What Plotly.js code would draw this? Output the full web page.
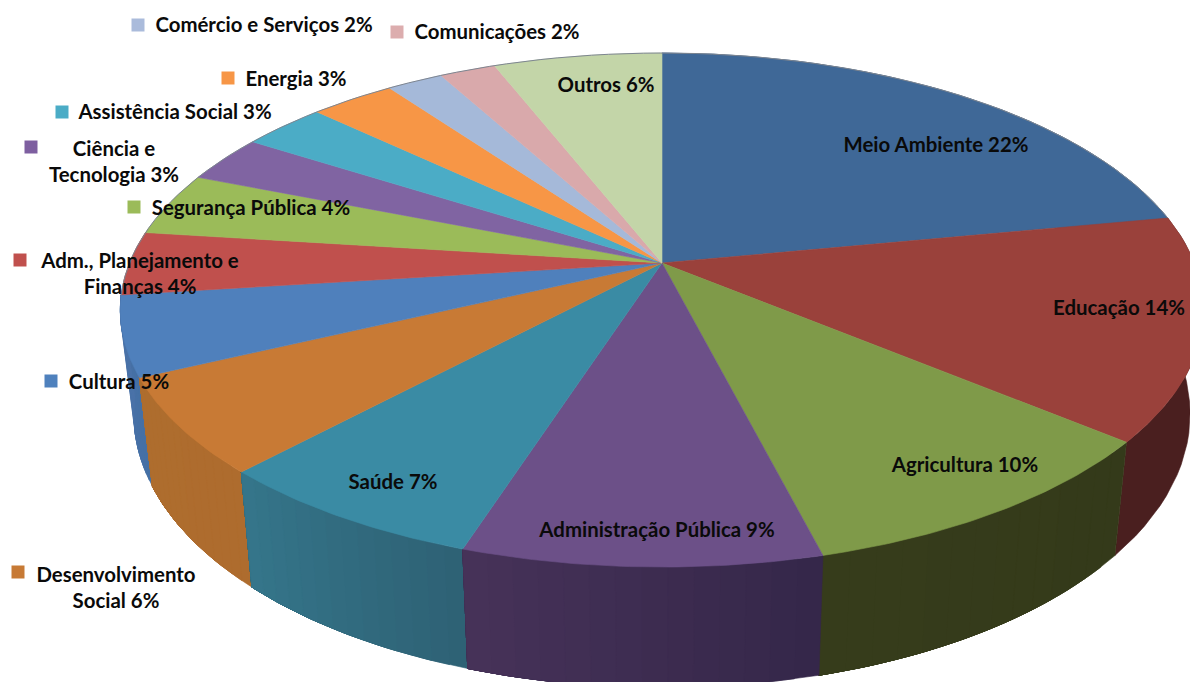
<!DOCTYPE html>
<html><head><meta charset="utf-8">
<script src="https://cdn.plot.ly/plotly-3.0.1.min.js"></script>
<style>html,body{margin:0;padding:0;background:#fff;overflow:hidden}#c{width:1190px;height:682px}</style>
</head><body><div id="c"></div>
<script>
// ---- data ----
const categories = ["Meio Ambiente","Educação","Agricultura","Administração Pública","Saúde","Desenvolvimento Social","Cultura","Adm., Planejamento e Finanças","Segurança Pública","Ciência e Tecnologia","Assistência Social","Energia","Comércio e Serviços","Comunicações","Outros"];
const values = [22,14,10,9,7,6,5,4,4,3,3,3,2,2,6];
// ---- styles ----
const topColors = ["#3f6897","#9a413b","#7f9a49","#6c5088","#3a8ba4","#c87a35","#4f80bc","#c0504d","#9bbb59","#8064a2","#4bacc6","#f79646","#a5b9d9","#d9a9ab","#c3d5a8"];
const wallFrom = ["#3a5c85","#4a1f1f","#363c1b","#463258","#35758a","#ae6d2e","#4a72a8","#8a3a38"];
const wallTo   = ["#3a5c85","#4a1f1f","#343a1a","#35274a","#2e6275","#ae6c2e","#4570a5","#8a3a38"];
const legendColors = ["#aabbdb","#dcadae","#f79646","#4bacc6","#7e5fa0","#9bbb59","#c0504d","#4f81bd","#c77a35"];
const legendX = [138,397,228,62,31,134,20,51,18];
const legendY = [25,32,78,112,147,207,260,381,572];
// label centres, in the same order as categories
const labelX = [936,1119,965,657,393,116,119,140,251,114,175,296,264,497,606];
const labelY = [147,310,467,532,484,590,384,276,210,164,114,81,27,34,87];
const labelBreak = {"Desenvolvimento Social":"Desenvolvimento<br>Social","Adm., Planejamento e Finanças":"Adm., Planejamento e<br>Finanças","Ciência e Tecnologia":"Ciência e<br>Tecnologia"};

// ---- projection of the tilted disc ----
const CX=662, CY=263, A=532.5, B=248.4, P=0.183, SHR=0.975;
const total = values.reduce((a,b)=>a+b,0);
function topPt(th){const u=Math.sin(th),v=Math.cos(th),w=1+P*v;return [CX+A*u/w, CY-B*v/w];}
function botPt(th){const p=topPt(th),v=Math.cos(th);return [CX+SHR*(p[0]-CX), CY+SHR*(p[1]-CY)+100-28*v];}
function hex(c){return [1,3,5].map(i=>parseInt(c.substr(i,2),16));}
function mix(a,b,t){const x=hex(a),y=hex(b);return "rgb("+x.map((q,i)=>Math.round(q+(y[i]-q)*t)).join(",")+")";}
function poly(xs,ys,color){return {type:"scatter",mode:"lines",x:xs,y:ys,fill:"toself",fillcolor:color,line:{color:color,width:0.6},hoverinfo:"skip",showlegend:false};}

let start=[],acc=0;values.forEach(v=>{start.push(acc);acc+=v;});
const toAng=p=>p/total*2*Math.PI;
const wallGroups=[],tops=[];
values.forEach((val,i)=>{
  const a0=toAng(start[i]),a1=toAng(start[i]+val);
  if(i<wallFrom.length){
    // nested wall panels: each one runs to the slice's far edge, so no seams show
    const N=wallFrom[i]===wallTo[i]?1:14, group=[];
    for(let s=0;s<N;s++){
      const t0=a0+(a1-a0)*s/N, xs=[],ys=[],m=24;
      for(let k=0;k<=m;k++){const p=topPt(t0+(a1-t0)*k/m);xs.push(p[0]);ys.push(p[1]);}
      for(let k=m;k>=0;k--){const p=botPt(t0+(a1-t0)*k/m);xs.push(p[0]);ys.push(p[1]);}
      xs.push(xs[0]);ys.push(ys[0]);
      group.push(poly(xs,ys,mix(wallTo[i],wallFrom[i],N===1?0:s/(N-1))));
    }
    wallGroups.push({o:Math.abs(Math.PI-(a0+a1)/2),g:group});
  }
  const xs=[CX],ys=[CY],n=Math.max(8,Math.ceil(val*5));
  for(let k=0;k<=n;k++){const p=topPt(a0+(a1-a0)*k/n);xs.push(p[0]);ys.push(p[1]);}
  xs.push(CX);ys.push(CY);
  tops.push(poly(xs,ys,topColors[i]));
});
wallGroups.sort((a,b)=>b.o-a.o);
const walls=wallGroups.flatMap(w=>w.g);

// thin dark rim on the rear edge of the disc
const rimX=[],rimY=[];
for(let k=0;k<=80;k++){const p=topPt(toAng(start[7])+(toAng(total+start[1])-toAng(start[7]))*k/80);rimX.push(p[0]);rimY.push(p[1]);}
const rim={type:"scatter",mode:"lines",x:rimX,y:rimY,line:{color:"#7d8590",width:1},hoverinfo:"skip",showlegend:false};

const legend={type:"scatter",mode:"markers",x:legendX,y:legendY,marker:{symbol:"square",size:13,color:legendColors,line:{width:0}},hoverinfo:"skip",showlegend:false};
const labels={type:"scatter",mode:"text",x:labelX,y:labelY,
  text:categories.map((c,i)=>(labelBreak[c]||c)+" "+values[i]+"%"),
  textposition:"middle center",textfont:{family:"Lato, Carlito, sans-serif",size:20.4,color:"#0a0a0a",weight:700},
  hoverinfo:"skip",showlegend:false};

Plotly.newPlot("c",[...walls,...tops,rim,legend,labels],{
  width:1190,height:682,margin:{l:0,r:0,t:0,b:0},paper_bgcolor:"#fff",plot_bgcolor:"#fff",showlegend:false,
  xaxis:{range:[0,1190],visible:false,fixedrange:true},
  yaxis:{range:[682,0],visible:false,fixedrange:true}
},{displayModeBar:false,staticPlot:true});
</script></body></html>
